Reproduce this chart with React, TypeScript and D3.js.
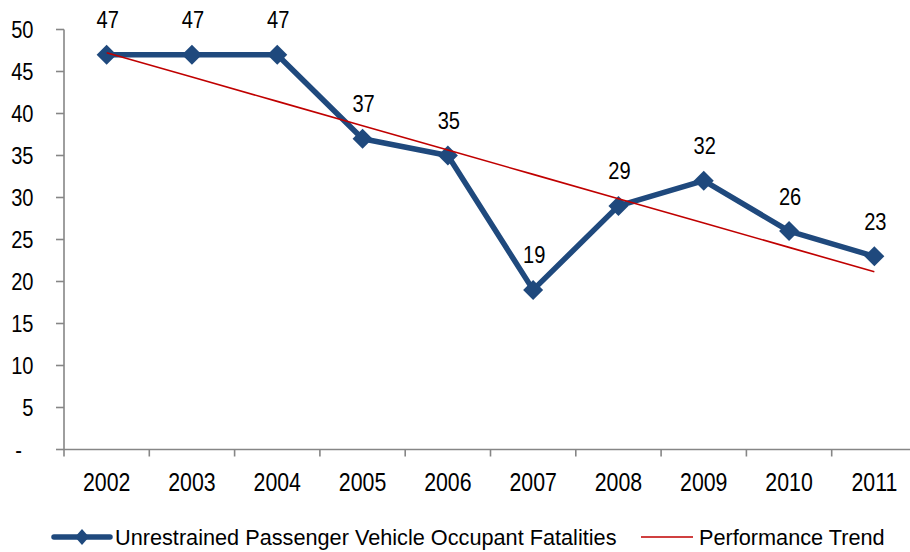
import React from "react";
import * as d3 from "d3";

const years = ["2002", "2003", "2004", "2005", "2006", "2007", "2008", "2009", "2010", "2011"];
const fatalities = [47, 47, 47, 37, 35, 19, 29, 32, 26, 23];
const yTicks = [0, 5, 10, 15, 20, 25, 30, 35, 40, 45, 50];
const seriesName = "Unrestrained Passenger Vehicle Occupant Fatalities";
const trendName = "Performance Trend";

const W = 910;
const H = 552;
const FONT = "'Liberation Sans', Arial, sans-serif";
const BLUE = "#1F497D";
const RED = "#C00000";
const GRAY = "#868686";
const NARROW = 0.82;

function NText(props: { x: number; y: number; size: number; anchor?: string; children: React.ReactNode }) {
  const { x, y, size, anchor = "middle", children } = props;
  return (
    <text
      transform={`translate(${x},${y}) scale(${NARROW},1)`}
      textAnchor={anchor}
      fontSize={size}
      fill="#000"
    >
      {children}
    </text>
  );
}

export default function App() {
  const left = 64;
  const band = 85.3;
  const x = d3.scaleBand<string>().domain(years).range([left, left + band * years.length]);
  const y = d3.scaleLinear().domain([0, 50]).range([449.5, 29.5]);
  const cx = (d: string) => (x(d) as number) + x.bandwidth() / 2;

  // linear trend (least squares) over the series
  const idx = fatalities.map((_, i) => i + 1);
  const mx = d3.mean(idx) as number;
  const my = d3.mean(fatalities) as number;
  const sxy = d3.sum(idx, (v, i) => (v - mx) * (fatalities[i] - my));
  const sxx = d3.sum(idx, (v) => (v - mx) ** 2);
  const slope = sxy / sxx;
  const trend = idx.map((v) => my + slope * (v - mx));

  const line = d3
    .line<number>()
    .x((_, i) => cx(years[i]))
    .y((d) => y(d));

  const diamond = (px: number, py: number, rx: number, ry: number = rx) =>
    `M${px},${py - ry}L${px + rx},${py}L${px},${py + ry}L${px - rx},${py}Z`;

  const axisBottom = y(0);

  return (
    <svg width={W} height={H} style={{ position: "absolute", left: 0, top: 0, background: "#fff" }} fontFamily={FONT}>
      <rect width={W} height={H} fill="#fff" />
      {/* y axis */}
      <line x1={left} x2={left} y1={y(50)} y2={axisBottom} stroke={GRAY} strokeWidth={1.6} />
      {yTicks.map((t) => (
        <g key={t}>
          <line x1={left - 8} x2={left} y1={y(t)} y2={y(t)} stroke={GRAY} strokeWidth={1.6} />
          <NText x={t === 0 ? 22 : 33.5} y={y(t) + 8.7} size={24.5} anchor="end">
            {t === 0 ? "-" : t}
          </NText>
        </g>
      ))}
      {/* x axis */}
      <line x1={left} x2={W} y1={axisBottom} y2={axisBottom} stroke={GRAY} strokeWidth={1.6} />
      {years.map((yr) => (
        <line key={"t" + yr} x1={x(yr) as number} x2={x(yr) as number} y1={axisBottom} y2={axisBottom + 7} stroke={GRAY} strokeWidth={1.6} />
      ))}
      {years.map((yr) => (
        <NText key={"l" + yr} x={cx(yr)} y={491} size={26}>
          {yr}
        </NText>
      ))}
      {/* series line */}
      <path d={line(fatalities) as string} fill="none" stroke={BLUE} strokeWidth={5.5} strokeLinejoin="round" />
      {fatalities.map((v, i) => (
        <path key={"m" + i} d={diamond(cx(years[i]), y(v), 10)} fill={BLUE} />
      ))}
      {/* trend line */}
      <path d={line(trend) as string} fill="none" stroke={RED} strokeWidth={1.6} />
      {/* data labels */}
      {fatalities.map((v, i) => (
        <NText key={"d" + i} x={cx(years[i]) + 1} y={y(v) - 26.5} size={24.5}>
          {v}
        </NText>
      ))}
      {/* legend */}
      <g>
        <line x1={54} x2={110} y1={537} y2={537} stroke={BLUE} strokeWidth={5.5} strokeLinecap="round" />
        <path d={diamond(82, 537, 7, 8)} fill={BLUE} />
        <text x={115} y={537} dy="0.36em" fontSize={21.7} fill="#000">{seriesName}</text>
        <line x1={641} x2={693} y1={537} y2={537} stroke={RED} strokeWidth={1.6} />
        <text x={699} y={537} dy="0.36em" fontSize={21.7} fill="#000">{trendName}</text>
      </g>
    </svg>
  );
}
